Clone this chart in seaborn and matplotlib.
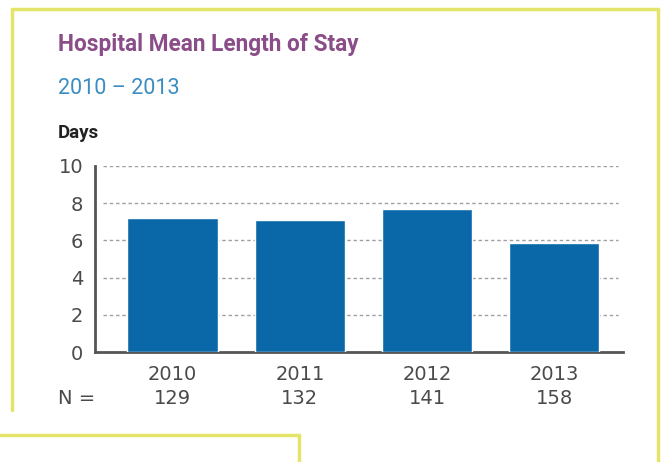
import matplotlib
matplotlib.use("Agg")
import matplotlib.pyplot as plt
from matplotlib.lines import Line2D
import seaborn as sns
import pandas as pd

years = ["2010", "2011", "2012", "2013"]
mean_stay = [7.2, 7.1, 7.7, 5.85]
n_counts = ["129", "132", "141", "158"]
y_ticks = [0, 2, 4, 6, 8, 10]

sns.set_theme(style="white")
plt.rcParams["font.family"] = ["DejaVu Sans"]
head_font = ["Roboto", "DejaVu Sans"]

df = pd.DataFrame({"year": years, "days": mean_stay})

fig = plt.figure(figsize=(6.68, 4.62), dpi=100)
fig.patch.set_facecolor("white")
ax = fig.add_axes([95 / 668, 1 - 352 / 462, 528 / 668, 186 / 462])

sns.barplot(data=df, x="year", y="days", color="#0a68a8", saturation=1,
            width=0.71, ax=ax, zorder=3)

tick_color = "#4a4a4a"
num_size = 14
ax.set_ylim(0, 10)
ax.set_xlim(-0.61, 3.54)
ax.set_yticks(y_ticks)
ax.set_yticklabels([str(t) for t in y_ticks], fontsize=num_size, color=tick_color)
ax.set_xticklabels(years, fontsize=num_size, color=tick_color)
ax.set_xlabel("")
ax.set_ylabel("")
ax.tick_params(axis="y", length=0, pad=8.5)
ax.tick_params(axis="x", length=0, pad=9)

for t in y_ticks[1:]:
    ax.axhline(t, xmin=0.015, xmax=0.99, color="#a0a0a0", lw=1,
               ls=(0, (2.5, 2)), zorder=1)

for side in ("top", "right"):
    ax.spines[side].set_visible(False)
for side in ("left", "bottom"):
    ax.spines[side].set_color("#555555")
    ax.spines[side].set_linewidth(2)

trans = ax.get_xaxis_transform()
for i, n in enumerate(n_counts):
    ax.text(i, -0.248, n, transform=trans, ha="center", va="center",
            fontsize=num_size, color=tick_color)
fig.text(58 / 668, 1 - 398 / 462, "N =", ha="left", va="center",
         fontsize=num_size, color=tick_color)

fig.text(58 / 668, 1 - 45 / 462, "Hospital Mean Length of Stay",
         ha="left", va="center", fontsize=16.3, fontweight="bold",
         color="#8a4d88", family=head_font)
fig.text(58 / 668, 1 - 88 / 462, "2010 \u2013 2013",
         ha="left", va="center", fontsize=15.5, color="#3a8dc2", family=head_font)
fig.text(58 / 668, 1 - 133 / 462, "Days",
         ha="left", va="center", fontsize=13.5, fontweight="bold",
         color="#222222", family=head_font)

# frame lines around the panel
frame = "#e4e46a"
def fline(x0, y0, x1, y1):
    fig.add_artist(Line2D([x0 / 668, x1 / 668], [1 - y0 / 462, 1 - y1 / 462],
                          color=frame, lw=2.5, transform=fig.transFigure))

fline(12, 9, 658, 9)
fline(12, 9, 12, 410)
fline(658, 9, 658, 462)
fline(0, 435, 299, 435)
fline(299, 435, 299, 462)

fig.savefig("out.png", dpi=100)
